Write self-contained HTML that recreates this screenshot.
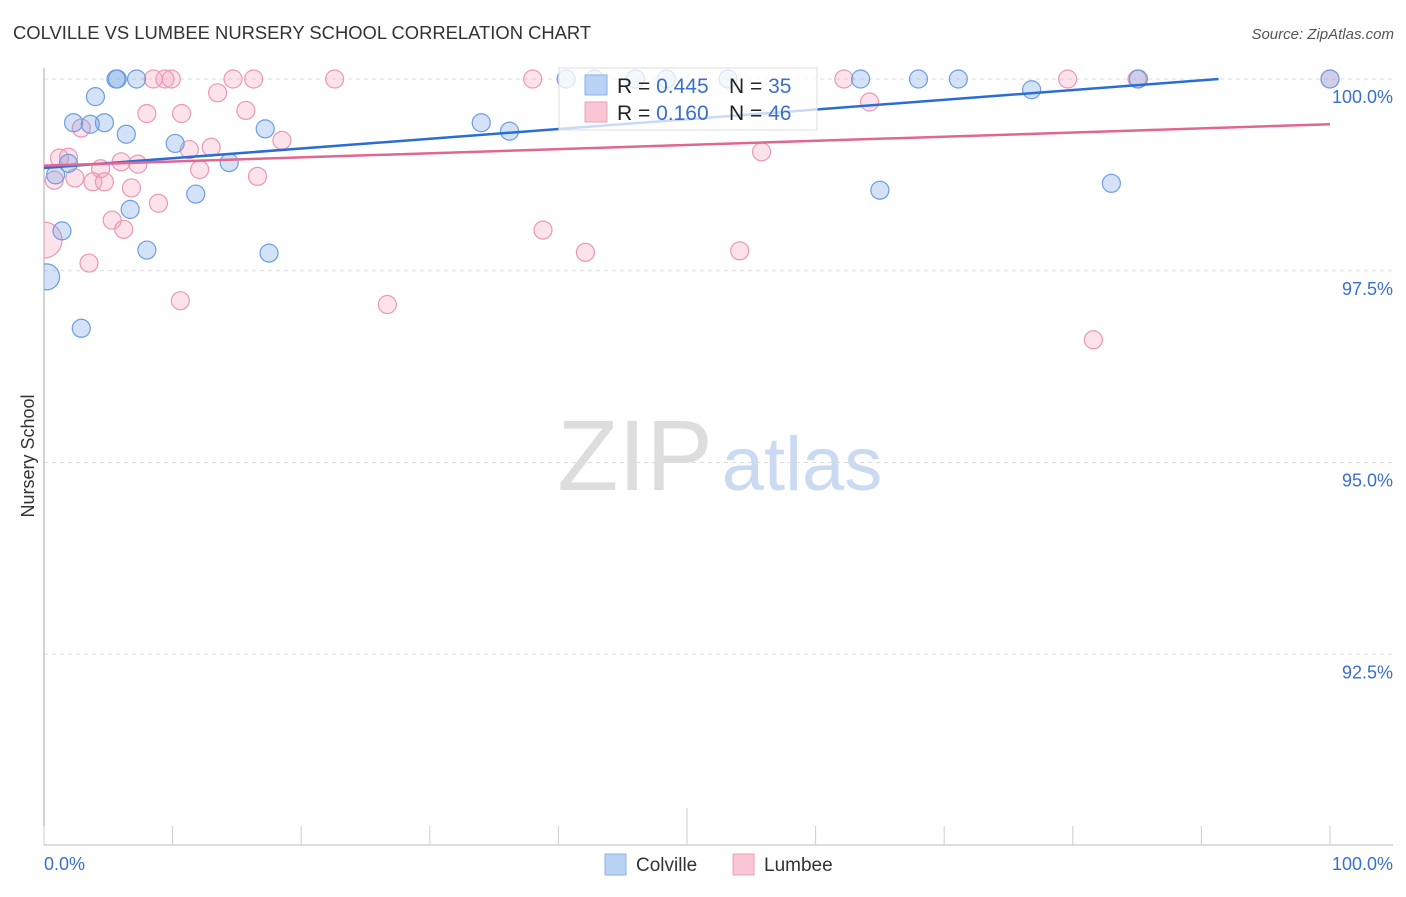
<!DOCTYPE html>
<html><head><meta charset="utf-8"><style>
body{margin:0;background:#fff;font-family:"Liberation Sans",sans-serif}
svg text{font-family:"Liberation Sans",sans-serif}
</style></head><body>
<svg id="c" width="1406" height="892" viewBox="0 0 1406 892" xmlns="http://www.w3.org/2000/svg">
<defs><clipPath id="plot"><rect x="44" y="40" width="1360" height="805"/></clipPath></defs>
<text x="13" y="39" font-size="18.4" fill="#333">COLVILLE VS LUMBEE NURSERY SCHOOL CORRELATION CHART</text>
<text x="1394" y="39" font-size="15" fill="#555" text-anchor="end" font-style="italic">Source: ZipAtlas.com</text>
<text x="34" y="456" font-size="18" fill="#333" text-anchor="middle" transform="rotate(-90 34 456)">Nursery School</text>
<g><text x="635" y="490" font-size="100" fill="#ddd" text-anchor="middle" font-family="Liberation Serif">ZIP</text><text x="802" y="490" font-size="76" fill="#c9daf2" text-anchor="middle">atlas</text></g>
<g id="grid"></g><g id="axes"></g><g id="pts" clip-path="url(#plot)"></g><g id="lines"></g>
<g>
<rect x="559" y="68" width="258" height="62" fill="rgba(255,255,255,0.75)" stroke="#ddd"/>
<rect x="585" y="75" width="22" height="20" fill="#b9d3f5" stroke="#8ab0e6"/>
<rect x="585" y="102" width="22" height="20" fill="#f9c6d5" stroke="#eca0b8"/>
<text x="617" y="93" font-size="21" fill="#222">R = <tspan fill="#3a6fd0">0.445</tspan></text>
<text x="729" y="93" font-size="21" fill="#222">N = <tspan fill="#3a6fd0">35</tspan></text>
<text x="617" y="120" font-size="21" fill="#222">R = <tspan fill="#3a6fd0"> 0.160</tspan></text>
<text x="729" y="120" font-size="21" fill="#222">N = <tspan fill="#3a6fd0">46</tspan></text>
</g>
<g>
<rect x="605" y="854" width="21" height="21" fill="#b9d3f5" stroke="#8ab0e6"/><text x="636" y="871" font-size="19" fill="#333">Colville</text>
<rect x="733" y="854" width="21" height="21" fill="#f9c6d5" stroke="#eca0b8"/><text x="764" y="871" font-size="19" fill="#333">Lumbee</text>
</g>
</svg>
<script>
const yTicks=[100,97.5,95,92.5];
const yTickLabels=["100.0%","97.5%","95.0%","92.5%"];
const colX=[5.6,5.7,7.2,4,2.3,3.6,4.7,6.4,10.2,17.2,14.4,1.9,0.9,1.4,11.8,6.7,8,17.5,0.2,2.9,34,36.2,40.6,46,53.2,63.5,68,71.1,76.8,65,83,85.1,100,42.8,48.4];
const colY=[100,100,100,99.77,99.43,99.41,99.43,99.28,99.16,99.35,98.91,98.9,98.75,98.02,98.5,98.3,97.77,97.73,97.42,96.75,99.43,99.32,100,100,100,100,100,100,99.86,98.55,98.64,100,100,100,100];
const lumX=[8.5,9.4,9.9,14.7,16.3,22.6,38,62.2,79.6,85,100,13.5,8,10.7,15.7,2.9,18.5,11.3,13,55.8,64.2,1.2,1.9,6,7.3,4.4,12.1,16.6,0.8,2.4,3.8,4.7,6.8,8.9,5.3,6.2,0,38.8,42.1,54.1,3.5,10.6,26.7,81.6];
const lumY=[100,100,100,100,100,100,100,100,100,100,100,99.82,99.55,99.55,99.59,99.36,99.2,99.08,99.11,99.05,99.7,98.97,98.98,98.92,98.89,98.83,98.82,98.73,98.68,98.71,98.66,98.66,98.58,98.38,98.16,98.04,97.9,98.03,97.74,97.76,97.6,97.11,97.06,96.6];
const colTrend=[98.84,100.11];
const lumTrend=[98.87,99.41];
const NS="http://www.w3.org/2000/svg";
const X=v=>44+v*12.86;
const Y=v=>79+(100-v)*76.7;
function mk(t,a,p){const e=document.createElementNS(NS,t);for(const k in a)e.setAttribute(k,a[k]);p.appendChild(e);return e;}
const grid=document.getElementById('grid'),axes=document.getElementById('axes'),pts=document.getElementById('pts'),lines=document.getElementById('lines');
yTicks.forEach((t,i)=>{
 const l=mk('line',{x1:44,x2:1393,y1:Y(t),y2:Y(t),stroke:'#ddd','stroke-dasharray':'4,4'},grid);
 
 
 const tx=mk('text',{x:1393,y:Y(t)+24,'font-size':18,fill:'#3a6fd0','text-anchor':'end'},axes);tx.textContent=yTickLabels[i];
 
 
});
mk('line',{x1:44,x2:44,y1:68,y2:845,stroke:'#aaa'},axes);
mk('line',{x1:44,x2:1393,y1:845,y2:845,stroke:'#bbb'},axes);
for(let i=0;i<=10;i++){const t=mk('line',{x1:X(i*10),x2:X(i*10),y1:i==5?808:826,y2:845,stroke:'#ccc'},axes);
 
 }
let a=mk('text',{x:44,y:870,'font-size':18,fill:'#3a6fd0'},axes);a.textContent='0.0%';


a=mk('text',{x:1393,y:870,'font-size':18,fill:'#3a6fd0','text-anchor':'end'},axes);a.textContent='100.0%';


lumX.forEach((v,i)=>{const c=mk('circle',{cx:X(v),cy:Y(lumY[i]),r:v===0?18:9,fill:'rgba(244,160,188,0.3)',stroke:'#eb98b2','stroke-width':1.2},pts);
 
 });
colX.forEach((v,i)=>{const c=mk('circle',{cx:X(v),cy:Y(colY[i]),r:v<0.5?13:9,fill:'rgba(110,160,230,0.3)',stroke:'#6e9de0','stroke-width':1.2},pts);
 
 });
let x2=100;if(colTrend[1]>100){x2=(100-colTrend[0])/(colTrend[1]-colTrend[0])*100;}
const yb=colTrend[0]+(colTrend[1]-colTrend[0])*x2/100;
const bl=mk('line',{x1:X(0),y1:Y(colTrend[0]),x2:X(x2),y2:Y(yb),stroke:'#2a6dd6','stroke-width':2.5},lines);


const pl=mk('line',{x1:X(0),y1:Y(lumTrend[0]),x2:X(100),y2:Y(lumTrend[1]),stroke:'#e3668f','stroke-width':2.5},lines);


</script>
</body></html>
